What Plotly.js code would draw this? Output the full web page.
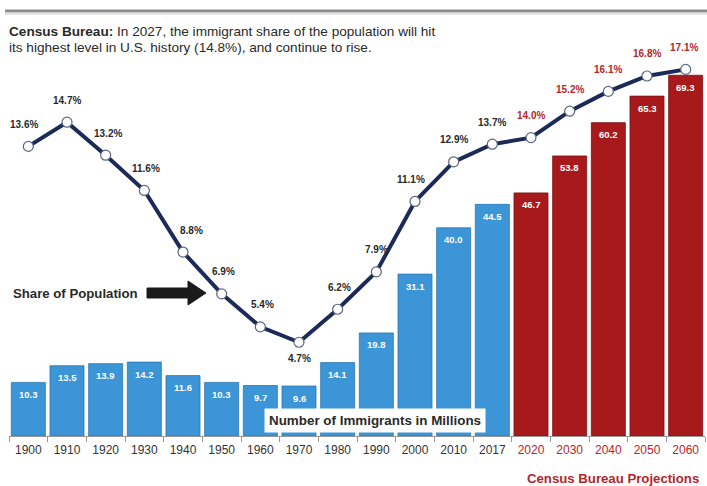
<!DOCTYPE html>
<html>
<head>
<meta charset="utf-8">
<script src="https://cdn.plot.ly/plotly-3.0.1.min.js"></script>
<style>
html,body{margin:0;padding:0;background:#fff;}
#chart{width:707px;height:486px;}
</style>
</head>
<body>
<div id="chart"></div>
<script>
// ---- data ----
var histYears = ["1900","1910","1920","1930","1940","1950","1960","1970","1980","1990","2000","2010","2017"];
var projYears = ["2020","2030","2040","2050","2060"];
var histImmigrants = [10.3,13.5,13.9,14.2,11.6,10.3,9.7,9.6,14.1,19.8,31.1,40.0,44.5];
var projImmigrants = [46.7,53.8,60.2,65.3,69.3];
var histShare = [13.6,14.7,13.2,11.6,8.8,6.9,5.4,4.7,6.2,7.9,11.1,12.9,13.7];
var projShare = [14.0,15.2,16.1,16.8,17.1];

// ---- styling ----
var BLUE = "#3b95d6", RED = "#a8191c", NAVY = "#1b2a57", DARK = "#2a2a2a", LABELRED = "#b3262b";
var FONT = "Liberation Sans, Arial, sans-serif";
// horizontal nudges (px) for percent labels, one per point
var labelDx = [-4,0,2,2,8,2,2,0,2,0,-4,0,0,0,0,0,0,-2];

var years = histYears.concat(projYears);
var immigrants = histImmigrants.concat(projImmigrants);
var share = histShare.concat(projShare);
var isProj = years.map(function(y){ return projYears.indexOf(y) >= 0; });

// plot area in pixels
var L = 9, R = 2, T = 30, B = 50, W = 707, H = 486;
var pw = W - L - R, ph = H - T - B;
function px2x(p){ return (p - L) / pw; }
function px2y(p){ return (H - B - p) / ph; }

var bars = {
  type: "bar", x: years, y: immigrants,
  marker: { color: isProj.map(function(p){ return p ? RED : BLUE; }),
            line: { color: isProj.map(function(p){ return p ? "#7e1012" : "#2c78b3"; }), width: 0.8 } },
  hoverinfo: "skip"
};

var line = {
  type: "scatter", mode: "lines+markers", x: years, y: share, yaxis: "y2",
  line: { color: NAVY, width: 4 },
  marker: { size: 10, color: "#ffffff", line: { color: "#5a6580", width: 1.2 } },
  hoverinfo: "skip", cliponaxis: false
};

var annotations = [];
var minShare = Math.min.apply(null, share);
share.forEach(function(v, i){
  var below = (v === minShare);
  annotations.push({
    x: i, y: v, xref: "x", yref: "y2", showarrow: false,
    text: v.toFixed(1) + "%", yshift: below ? -16 : 22, xshift: labelDx[i],
    font: { family: FONT, size: 10, color: isProj[i] ? LABELRED : DARK, weight: "bold" }
  });
});
immigrants.forEach(function(v, i){
  annotations.push({
    x: i, y: v, xref: "x", yref: "y", showarrow: false,
    text: v.toFixed(1), yshift: -12,
    font: { family: FONT, size: 9.5, color: "#ffffff", weight: "bold" }
  });
});

annotations.push({
  xref: "paper", yref: "paper", x: px2x(7), y: px2y(31), xanchor: "left", yanchor: "middle", align: "left",
  showarrow: false,
  text: "<b>Census Bureau:</b> In 2027, the immigrant share of the population will hit",
  font: { family: FONT, size: 13.6, color: DARK }
});
annotations.push({
  xref: "paper", yref: "paper", x: px2x(7), y: px2y(47), xanchor: "left", yanchor: "middle", align: "left",
  showarrow: false,
  text: "its highest level in U.S. history (14.8%), and continue to rise.",
  font: { family: FONT, size: 13.6, color: DARK }
});
annotations.push({
  xref: "paper", yref: "paper", x: px2x(11), y: px2y(293), xanchor: "left", yanchor: "middle",
  showarrow: false, text: "<b>Share of Population</b>",
  font: { family: FONT, size: 13.2, color: DARK }
});
annotations.push({
  xref: "paper", yref: "paper", x: px2x(375), y: px2y(420), xanchor: "center", yanchor: "middle",
  showarrow: false, text: "<b>Number of Immigrants in Millions</b>",
  bgcolor: "#ffffff", borderpad: 4,
  font: { family: FONT, size: 13.4, color: DARK }
});
annotations.push({
  xref: "paper", yref: "paper", x: px2x(701), y: px2y(478), xanchor: "right", yanchor: "middle",
  showarrow: false, text: "<b>Census Bureau Projections</b>",
  font: { family: FONT, size: 13.2, color: LABELRED }
});

function P(x, y){ return px2x(x).toFixed(4) + "," + px2y(y).toFixed(4); }
var arrowPath = "M" + P(147,288) + " L" + P(188,288) + " L" + P(188,281) + " L" + P(206,293) +
                " L" + P(188,305) + " L" + P(188,298) + " L" + P(147,298) + " Z";

var shapes = [
  { type: "line", xref: "paper", yref: "paper", x0: px2x(5), x1: px2x(707), y0: px2y(11), y1: px2y(11),
    line: { color: "#8c8c8c", width: 3 } },
  { type: "line", xref: "paper", yref: "paper", x0: px2x(5), x1: px2x(707), y0: px2y(13.5), y1: px2y(13.5),
    line: { color: "#dcdcdc", width: 2 } },
  { type: "path", xref: "paper", yref: "paper", path: arrowPath,
    fillcolor: "#1a1a1a", line: { color: "#1a1a1a", width: 1 } }
];

var tickText = years.map(function(y, i){
  return isProj[i] ? '<span style="color:' + LABELRED + '">' + y + '</span>' : y;
});

var layout = {
  width: W, height: H,
  margin: { l: L, r: R, t: T, b: B, pad: 0 },
  paper_bgcolor: "#ffffff", plot_bgcolor: "#ffffff",
  showlegend: false, bargap: 0.12,
  font: { family: FONT, color: DARK },
  xaxis: {
    type: "category", range: [-0.5, years.length - 0.5],
    tickvals: years, ticktext: tickText, tickson: "boundaries",
    ticks: "outside", ticklen: 5, tickcolor: "#999", tickwidth: 1,
    ticklabelstandoff: 3,
    showline: true, linecolor: "#999", linewidth: 1,
    showgrid: false, zeroline: false,
    tickfont: { family: FONT, size: 12, color: "#333" }
  },
  yaxis: { range: [0, 78], visible: false, showgrid: false, zeroline: false, fixedrange: true },
  yaxis2: { range: [0.44, 18.89], overlaying: "y", visible: false, showgrid: false, zeroline: false },
  annotations: annotations,
  shapes: shapes
};

Plotly.newPlot("chart", [bars, line], layout, { staticPlot: true, displayModeBar: false });
</script>
</body>
</html>
